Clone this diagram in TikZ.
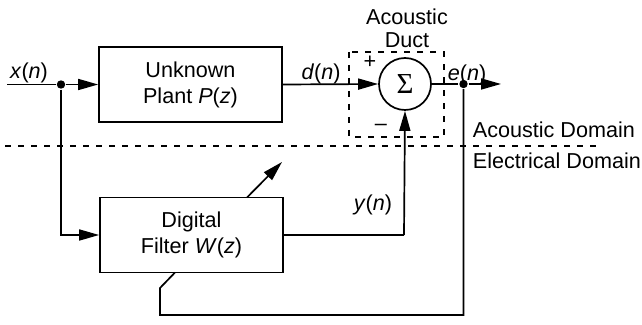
\documentclass[tikz,border=0pt]{standalone}
\usepackage{fontspec}
\setmainfont{Liberation Sans}
\newfontfamily\sigmafont{Liberation Serif}
\usetikzlibrary{arrows.meta}
\begin{document}
\begin{tikzpicture}[x=0.5pt,y=-0.5pt,
  font=\fontsize{10.8}{13}\selectfont, line width=0.85pt,
  blk/.style={draw, rectangle, minimum width=91.5pt, minimum height=37.5pt, inner sep=0pt, align=center},
  arr/.style={-{Triangle[length=10pt,width=5.5pt]}},
  jdot/.style={circle, fill, inner sep=0pt, minimum size=4.2pt},
  dline/.style={line width=0.75pt, dash pattern=on 3pt off 3.5pt},
  lbl/.style={inner sep=0pt}]
\useasboundingbox (0,0) rectangle (642,325);

% blocks
\node[blk] (plant) at (190.5,84.5) {Unknown\\Plant \textit{P}(\textit{z})};
\node[blk] (filter) at (191.5,235) {Digital\\Filter \textit{W}(\textit{z})};
\node[draw, circle, minimum size=26pt, inner sep=0pt] (sum) at (405,84) {\sigmafont\fontsize{14.5}{14.5}\selectfont Σ};

% acoustic duct dashed box
\draw[dline] (349,52) rectangle (444,137);
\node[lbl] (ac) at (407,17) {Acoustic};
\node[lbl] (duct) at (407,40) {Duct};

% domain separation
\coordinate (dl) at (5,146);
\coordinate (dr) at (603,146);
\draw[dline] (dl) -- (dr);
\node[lbl, anchor=west] (adom) at (472,130) {Acoustic Domain};
\node[lbl, anchor=west] (edom) at (472,161) {Electrical Domain};

% input
\coordinate (xin) at (7,84.5);
\node[jdot] (split) at (61,84.5) {};
\node[lbl] (xl) at (29,73) {\textit{x}(\textit{n})};
\draw (xin) -- (split);
\draw[arr] (split) -- (plant.west);
\draw[arr] (split) |- (filter.west);

% d(n)
\draw[arr] (plant.east) -- (sum.west);
\node[lbl] (dlab) at (321,74) {\textit{d}(\textit{n})};
\node[lbl] (plus) at (370,62) {+};
\node[lbl] (minus) at (381,127) {\textendash};

% e(n)
\node[jdot] (edot) at (463.5,84) {};
\coordinate (eout) at (501,84);
\draw (sum.east) -- (edot);
\draw[arr] (edot) -- (eout);
\node[lbl] (elab) at (467,75) {\textit{e}(\textit{n})};

% y(n)
\coordinate (yc) at (404,235);
\draw (filter.east) -- (yc);
\draw[arr] (yc) -- (sum.south);
\node[lbl] (ylab) at (373,205) {\textit{y}(\textit{n})};

% error feedback
\coordinate (f1) at (463.5,315);
\coordinate (f2) at (160,315);
\coordinate (f3) at (160,288);
\coordinate (f4) at (175,272.5);
\draw (edot) -- (f1) -- (f2) -- (f3) -- (f4);

% adaptation arrow
\coordinate (a1) at (247,197.5);
\coordinate (a2) at (282,162);
\draw[arr] (a1) -- (a2);
\end{tikzpicture}
\end{document}
